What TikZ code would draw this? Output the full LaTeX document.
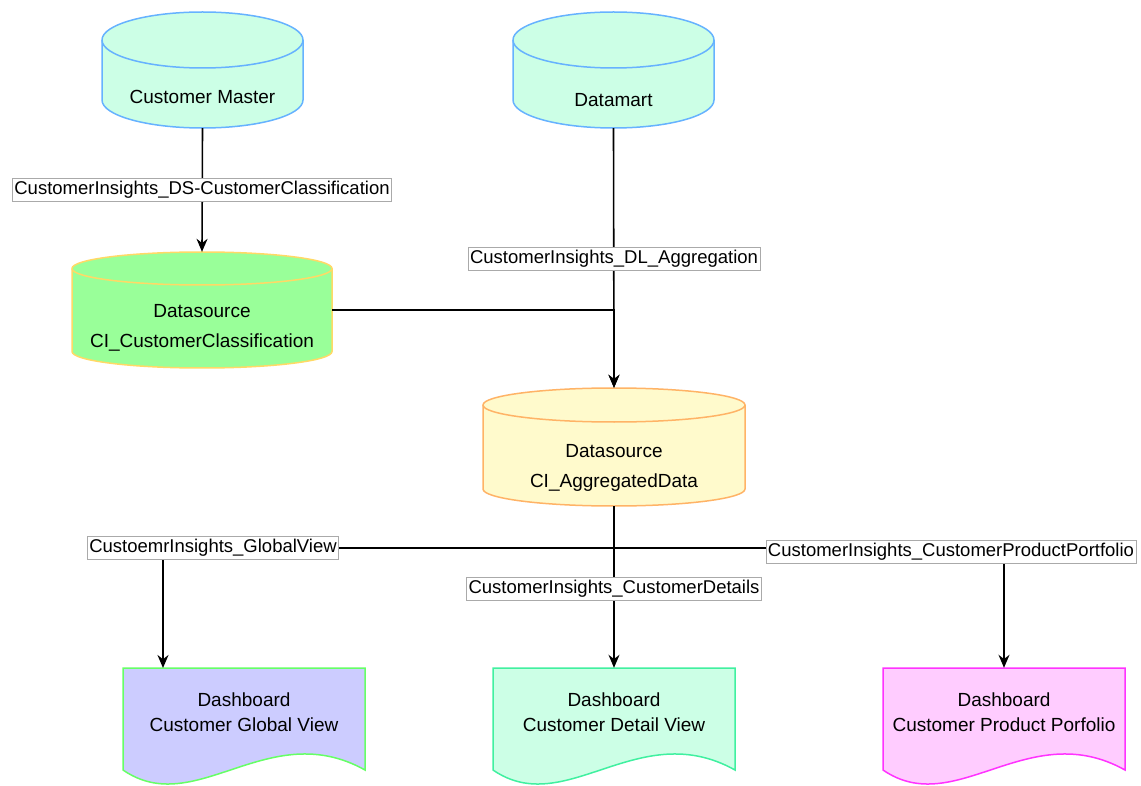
\documentclass[tikz,border=0pt]{standalone}
\usepackage{fontspec}
\setmainfont{Liberation Sans}
\usetikzlibrary{arrows.meta,calc}
\definecolor{mintfill}{HTML}{CCFFE6}
\definecolor{bluestroke}{HTML}{66B2FF}
\definecolor{greenfill}{HTML}{99FF99}
\definecolor{yellowstroke}{HTML}{FFD966}
\definecolor{creamfill}{HTML}{FFFACC}
\definecolor{orangestroke}{HTML}{FFB366}
\definecolor{lavfill}{HTML}{CCCCFF}
\definecolor{greenstroke}{HTML}{66FF66}
\definecolor{mintstroke}{HTML}{40F0A0}
\definecolor{pinkfill}{HTML}{FFCCFF}
\definecolor{magstroke}{HTML}{FF33FF}
\definecolor{lblborder}{HTML}{AAAAAA}
\newcommand\mycyl[7]{%
  \pgfmathsetmacro\rxx{(#3-#1)/2}%
  \path[fill=#6,draw=#7,line width=1.5pt] (#1,#2+#5) -- (#1,#4-#5)
     arc[start angle=180,end angle=360,x radius=\rxx pt,y radius=#5 pt]
     -- (#3,#2+#5)
     arc[start angle=0,end angle=180,x radius=\rxx pt,y radius=#5 pt] -- cycle;
  \draw[#7,line width=1.5pt] (#3,#2+#5)
     arc[start angle=0,end angle=-180,x radius=\rxx pt,y radius=#5 pt];
}
\newcommand\mydoc[6]{%
  \pgfmathsetmacro\cAA{#1+0.6*(#3-#1)}%
  \pgfmathsetmacro\cBB{#1+0.3*(#3-#1)}%
  \path[fill=#5,draw=#6,line width=1.5pt] (#1,#2) -- (#3,#2) -- (#3,#2+102)
     .. controls (\cAA,#2+48) and (\cBB,#2+152) .. (#1,#2+102) -- cycle;
}
\begin{document}
\begin{tikzpicture}[x=1pt,y=-1pt,
  lbl/.style={draw=lblborder, line width=0.6pt, fill=white, inner xsep=2pt, inner ysep=2.5pt,
     text height=13.5pt, text depth=4pt, font=\fontsize{18.5}{20}\selectfont},
  conn/.style={line width=1.6pt},
  arr/.style={conn,-{Stealth[length=13pt,width=11pt]}},
  ntext/.style={font=\fontsize{19}{30}\selectfont, align=center, text=black, inner sep=0pt},
  dtext/.style={font=\fontsize{19}{25}\selectfont, align=center, text=black, inner sep=0pt},
  shapebox/.style={inner sep=0pt, draw=none},
  ]
\useasboundingbox (0,0) rectangle (1141,786);

% shapes
\mycyl{102}{12}{303}{128}{28}{mintfill}{bluestroke}
\mycyl{513}{12}{714}{128}{28}{mintfill}{bluestroke}
\mycyl{72}{252}{332}{368}{16.5}{greenfill}{yellowstroke}
\mycyl{483}{388}{745}{506}{17}{creamfill}{orangestroke}
\mydoc{123}{668}{365}{785}{lavfill}{greenstroke}
\mydoc{493}{668}{735}{785}{mintfill}{mintstroke}
\mydoc{883}{668}{1125}{785}{pinkfill}{magstroke}

% named boxes for connections
\node[shapebox, minimum width=201pt, minimum height=116pt] (cm) at (202.5,70) {};
\node[shapebox, minimum width=201pt, minimum height=116pt] (dm) at (613.5,70) {};
\node[shapebox, minimum width=260pt, minimum height=116pt] (ds1) at (202,310) {};
\node[shapebox, minimum width=262pt, minimum height=118pt] (agg) at (614,447) {};
\node[shapebox, minimum width=242pt, minimum height=117pt] (gv) at (244,726.5) {};
\node[shapebox, minimum width=242pt, minimum height=117pt] (dv) at (614,726.5) {};
\node[shapebox, minimum width=242pt, minimum height=117pt] (pp) at (1004,726.5) {};
\coordinate (gvin) at (163,668);
\coordinate (split) at (614,548);

% texts
\node[ntext] (cmt) at (202.5,97) {Customer Master};
\node[ntext] (dmt) at (613.5,100) {Datamart};
\node[ntext] (ds1t) at (202,328) {Datasource\\CI\_CustomerClassification};
\node[ntext] (aggt) at (614,468) {Datasource\\CI\_AggregatedData};
\node[dtext] (gvt) at (244,712.5) {Dashboard\\Customer Global View};
\node[dtext] (dvt) at (614,712.5) {Dashboard\\Customer Detail View};
\node[dtext] (ppt) at (1004,712.5) {Dashboard\\Customer Product Porfolio};

% connectors
\draw[arr] (cm.south) -- (ds1.north);
\draw[arr] (dm.south) -- (agg.north);
\draw[arr] (ds1.east) -| (agg.north);
\draw[arr] (agg.south) -- (split) -| (gvin);
\draw[arr] (agg.south) -- (dv.north);
\draw[arr] (agg.south) -- (split) -| (pp.north);

% labels
\node[lbl] (l1) at (202,190) {CustomerInsights\_DS-CustomerClassification};
\node[lbl] (l2) at (614,259) {CustomerInsights\_DL\_Aggregation};
\node[lbl] (l3) at (213,548) {CustoemrInsights\_GlobalView};
\node[lbl] (l4) at (614,589) {CustomerInsights\_CustomerDetails};
\node[lbl] (l5) at (951,552) {CustomerInsights\_CustomerProductPortfolio};
\end{tikzpicture}
\end{document}
